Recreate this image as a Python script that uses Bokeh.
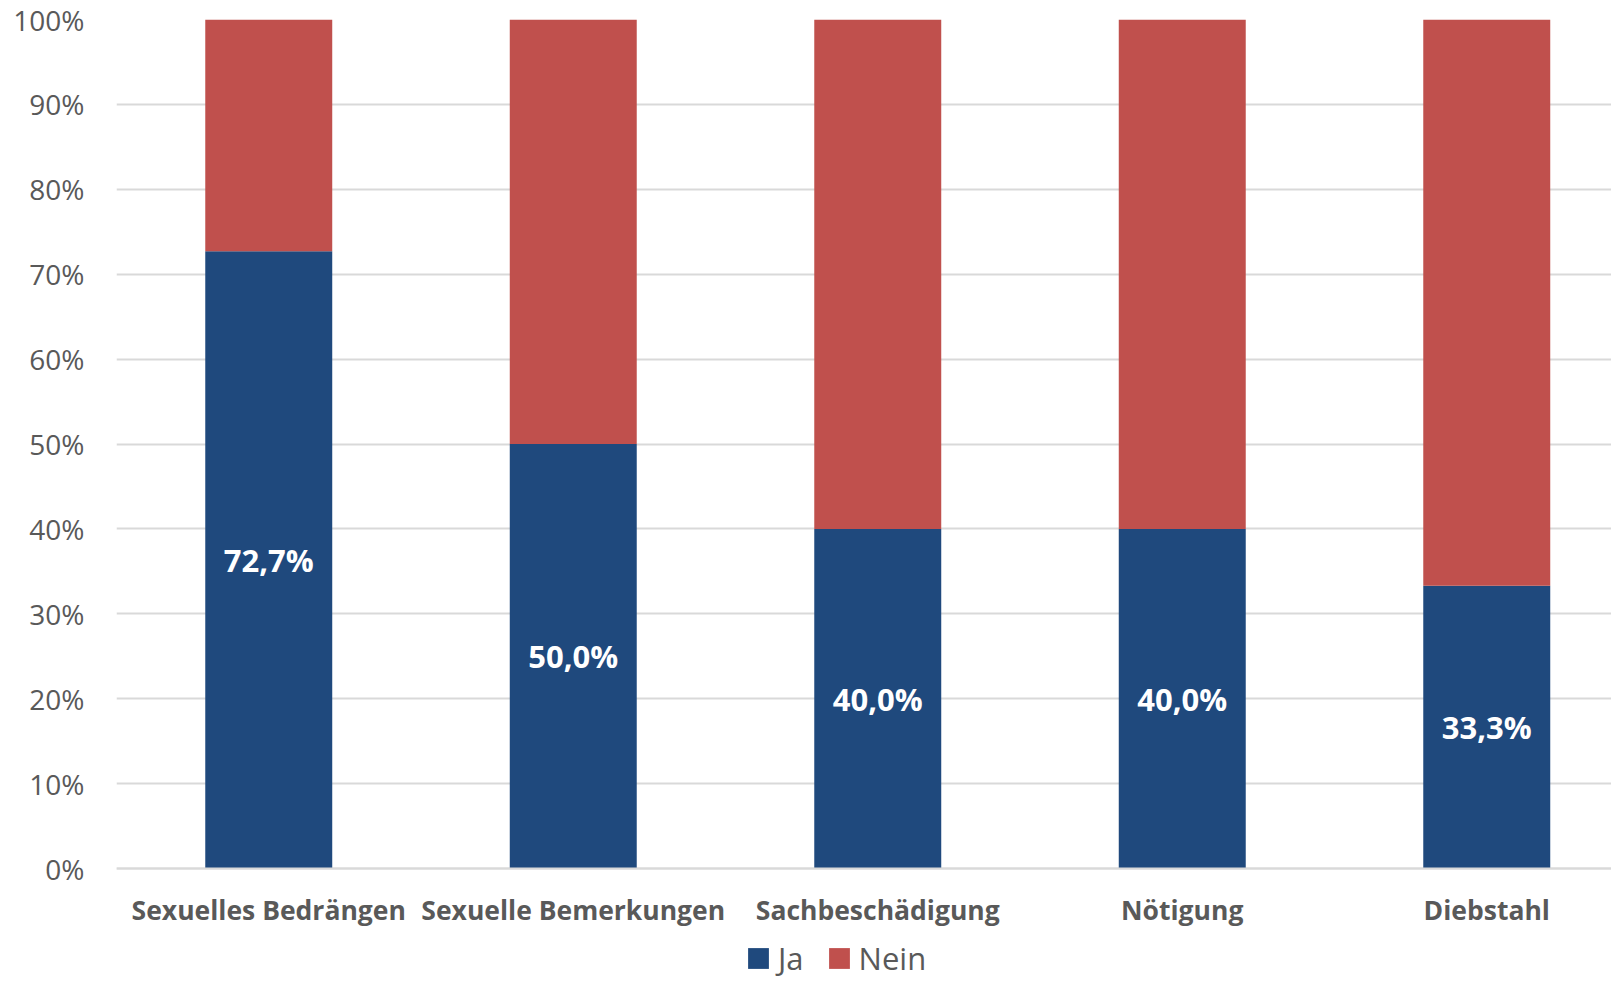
from bokeh.plotting import figure
from bokeh.models import ColumnDataSource, Range1d, PrintfTickFormatter, FixedTicker, Legend, LegendItem
from bokeh.core.properties import value
from bokeh.embed import file_html
from bokeh.resources import INLINE

# ---- data ----
categories = ["Sexuelles Bedrängen", "Sexuelle Bemerkungen", "Sachbeschädigung", "Nötigung", "Diebstahl"]
ja = [72.7, 50.0, 40.0, 40.0, 33.3]
nein = [27.3, 50.0, 60.0, 60.0, 66.7]
series = ["Ja", "Nein"]
y_ticks = [0, 10, 20, 30, 40, 50, 60, 70, 80, 90, 100]

colors = {"Ja": "#1F497D", "Nein": "#C0504D"}
TXT = "#595959"
FONT = "Open Sans"

xs = list(range(len(categories)))
src = ColumnDataSource(dict(
    x=xs,
    Ja=ja,
    Nein=nein,
    mid=[v / 2 for v in ja],
    lbl=[("%.1f%%" % v).replace(".", ",") for v in ja],
))

W, H = 1611, 979
band_px = 304.5
frame_left = 116
frame_top = 19
zero_px = 868          # pixel row of the 0% line
frame_w = W - frame_left
y_start = -(H - zero_px) * 100.0 / (zero_px - frame_top)

p = figure(width=W, height=H, output_backend="svg", toolbar_location=None,
           x_range=Range1d(-0.5, -0.5 + frame_w / band_px), y_range=Range1d(y_start, 100),
           min_border_left=frame_left, min_border_right=0, min_border_top=frame_top,
           min_border_bottom=0)
p.outline_line_color = None
p.background_fill_color = "white"

r = p.vbar_stack(series, x="x", width=0.417, source=src,
                 color=[colors[s] for s in series], line_color=None)

p.text(x="x", y="mid", text="lbl", source=src, text_color="white",
       text_font=value(FONT), text_font_style="bold", text_font_size="31px",
       text_align="center", text_baseline="middle")

# axes
p.xaxis.fixed_location = 0
p.xaxis.ticker = FixedTicker(ticks=xs)
p.xaxis.major_label_overrides = {i: c for i, c in enumerate(categories)}
p.xaxis.major_label_text_font = FONT
p.xaxis.major_label_text_font_style = "bold"
p.xaxis.major_label_text_font_size = "26.5px"
p.xaxis.major_label_text_color = TXT
p.xaxis.major_label_standoff = 17
p.xaxis.axis_line_color = "#D9D9D9"
p.xaxis.axis_line_width = 2
p.xaxis.major_tick_line_color = None
p.xaxis.minor_tick_line_color = None
p.xgrid.grid_line_color = None

p.yaxis.ticker = FixedTicker(ticks=y_ticks)
p.yaxis.formatter = PrintfTickFormatter(format="%d%%")
p.yaxis.major_label_text_font = FONT
p.yaxis.major_label_text_font_size = "28px"
p.yaxis.major_label_text_color = TXT
p.yaxis.major_label_standoff = 26
p.yaxis.axis_line_color = None
p.yaxis.major_tick_line_color = None
p.yaxis.minor_tick_line_color = None
p.ygrid.ticker = FixedTicker(ticks=y_ticks)
p.ygrid.grid_line_color = "#D9D9D9"
p.ygrid.grid_line_width = 2

legend = Legend(items=[LegendItem(label=s, renderers=[r[i]]) for i, s in enumerate(series)],
                orientation="horizontal", location=(629, 0),
                glyph_width=26, glyph_height=26, label_standoff=7, spacing=22,
                padding=0, margin=0, border_line_color=None, background_fill_alpha=0,
                label_text_font=FONT, label_text_font_size="31px", label_text_color=TXT)
p.add_layout(legend, "center")

open("out.html", "w").write(file_html(p, INLINE))
